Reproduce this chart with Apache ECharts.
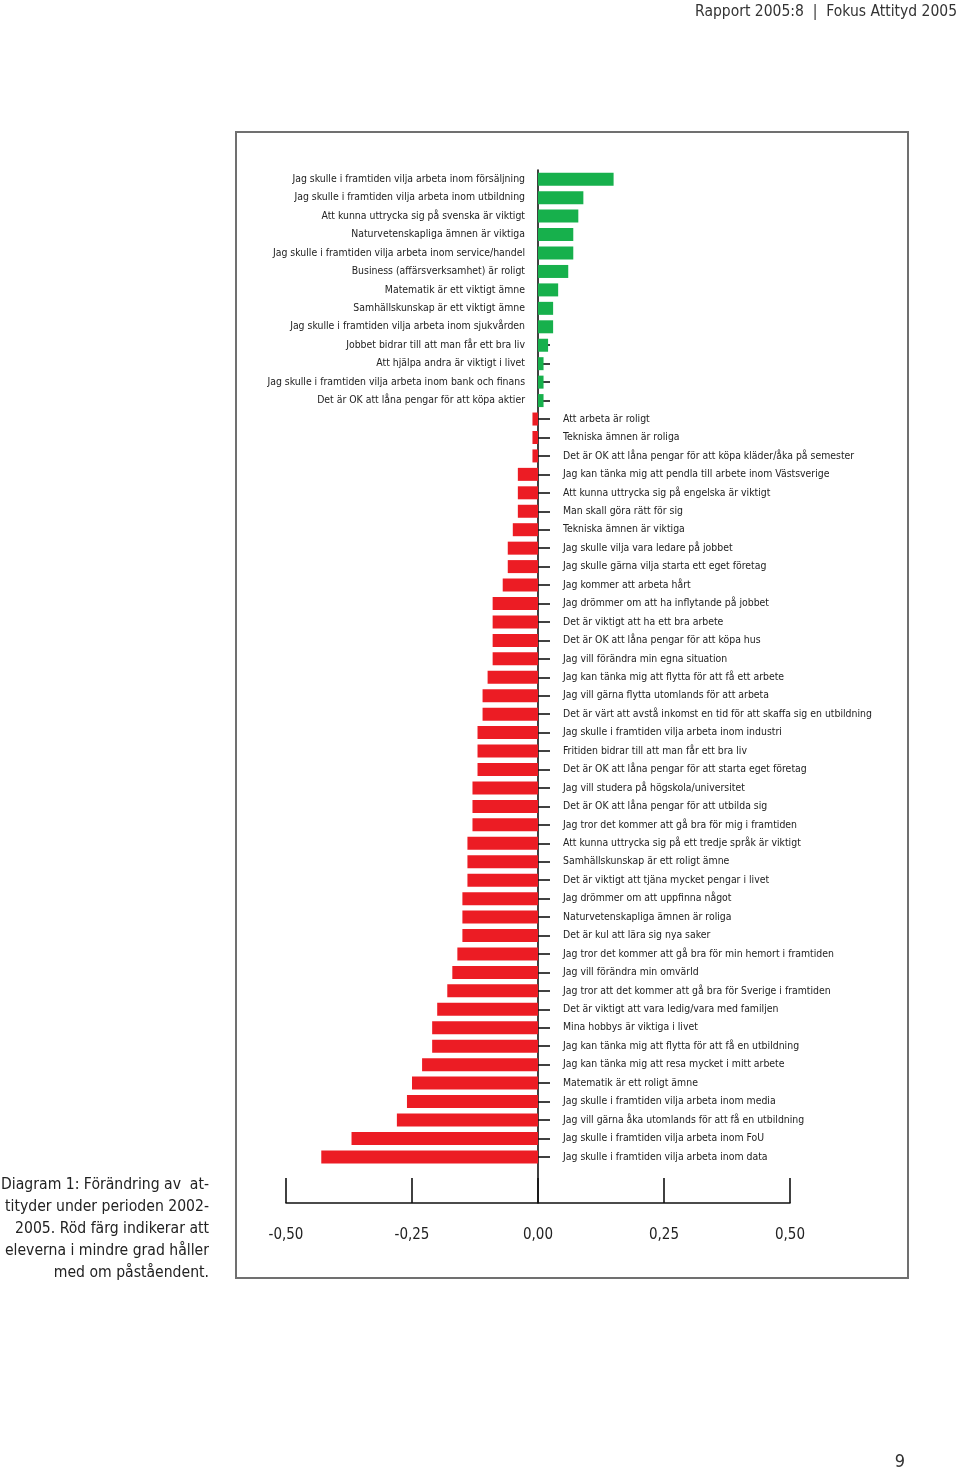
<!DOCTYPE html>
<html>
<head>
<meta charset="utf-8">
<script src="https://cdn.jsdelivr.net/npm/echarts@6/dist/echarts.min.js"></script>
<style>
html,body{margin:0;padding:0;background:#fff;}
#chart{width:960px;height:1467px;}
</style>
</head>
<body>
<div id="chart"></div>
<script>
const categories = [
  'Jag skulle i framtiden vilja arbeta inom försäljning',
  'Jag skulle i framtiden vilja arbeta inom utbildning',
  'Att kunna uttrycka sig på svenska är viktigt',
  'Naturvetenskapliga ämnen är viktiga',
  'Jag skulle i framtiden vilja arbeta inom service/handel',
  'Business (affärsverksamhet) är roligt',
  'Matematik är ett viktigt ämne',
  'Samhällskunskap är ett viktigt ämne',
  'Jag skulle i framtiden vilja arbeta inom sjukvården',
  'Jobbet bidrar till att man får ett bra liv',
  'Att hjälpa andra är viktigt i livet',
  'Jag skulle i framtiden vilja arbeta inom bank och finans',
  'Det är OK att låna pengar för att köpa aktier',
  'Att arbeta är roligt',
  'Tekniska ämnen är roliga',
  'Det är OK att låna pengar för att köpa kläder/åka på semester',
  'Jag kan tänka mig att pendla till arbete inom Västsverige',
  'Att kunna uttrycka sig på engelska är viktigt',
  'Man skall göra rätt för sig',
  'Tekniska ämnen är viktiga',
  'Jag skulle vilja vara ledare på jobbet',
  'Jag skulle gärna vilja starta ett eget företag',
  'Jag kommer att arbeta hårt',
  'Jag drömmer om att ha inflytande på jobbet',
  'Det är viktigt att ha ett bra arbete',
  'Det är OK att låna pengar för att köpa hus',
  'Jag vill förändra min egna situation',
  'Jag kan tänka mig att flytta för att få ett arbete',
  'Jag vill gärna flytta utomlands för att arbeta',
  'Det är värt att avstå inkomst en tid för att skaffa sig en utbildning',
  'Jag skulle i framtiden vilja arbeta inom industri',
  'Fritiden bidrar till att man får ett bra liv',
  'Det är OK att låna pengar för att starta eget företag',
  'Jag vill studera på högskola/universitet',
  'Det är OK att låna pengar för att utbilda sig',
  'Jag tror det kommer att gå bra för mig i framtiden',
  'Att kunna uttrycka sig på ett tredje språk är viktigt',
  'Samhällskunskap är ett roligt ämne',
  'Det är viktigt att tjäna mycket pengar i livet',
  'Jag drömmer om att uppfinna något',
  'Naturvetenskapliga ämnen är roliga',
  'Det är kul att lära sig nya saker',
  'Jag tror det kommer att gå bra för min hemort i framtiden',
  'Jag vill förändra min omvärld',
  'Jag tror att det kommer att gå bra för Sverige i framtiden',
  'Det är viktigt att vara ledig/vara med familjen',
  'Mina hobbys är viktiga i livet',
  'Jag kan tänka mig att flytta för att få en utbildning',
  'Jag kan tänka mig att resa mycket i mitt arbete',
  'Matematik är ett roligt ämne',
  'Jag skulle i framtiden vilja arbeta inom media',
  'Jag vill gärna åka utomlands för att få en utbildning',
  'Jag skulle i framtiden vilja arbeta inom FoU',
  'Jag skulle i framtiden vilja arbeta inom data'
];

const changeValues = [
  0.15, 0.09, 0.08, 0.07, 0.07, 0.06, 0.04, 0.03, 0.03, 0.02, 0.011, 0.011, 0.011,
  -0.011, -0.011, -0.011, -0.04, -0.04, -0.04, -0.05, -0.06, -0.06, -0.07,
  -0.09, -0.09, -0.09, -0.09, -0.10, -0.11, -0.11, -0.12, -0.12, -0.12,
  -0.13, -0.13, -0.13, -0.14, -0.14, -0.14, -0.15, -0.15, -0.15, -0.16, -0.17,
  -0.18, -0.20, -0.21, -0.21, -0.23, -0.25, -0.26, -0.28, -0.37, -0.43
];

const xTicks = [-0.5, -0.25, 0, 0.25, 0.5];

const headerText = 'Rapport 2005:8  |  Fokus Attityd 2005';
const captionLines = [
  'Diagram 1: Förändring av  at-',
  'tityder under perioden 2002-',
  '2005. Röd färg indikerar att',
  'eleverna i mindre grad håller',
  'med om påståendent.'
];
const pageNumber = '9';

const GREEN = '#17b04c';
const RED = '#ec1c24';
const FONT = '"Liberation Sans Narrow", "DejaVu Sans Condensed", sans-serif';

const chart = echarts.init(document.getElementById('chart'), null, {renderer: 'canvas'});

const barData = changeValues.map(v => ({
  value: v,
  itemStyle: {color: v >= 0 ? GREEN : RED}
}));

const labelData = changeValues.map(v => ({
  value: 0,
  label: {
    position: v >= 0 ? 'left' : 'right',
    distance: v >= 0 ? 13 : 25
  }
}));

chart.setOption({
  animation: false,
  backgroundColor: '#ffffff',
  title: [
    {
      text: headerText, right: -2, top: -1,
      textStyle: {fontFamily: FONT, fontSize: 15.5, fontWeight: 'normal', color: '#333'}
    },
    {
      text: pageNumber, right: 50, top: 1448,
      textStyle: {fontFamily: FONT, fontSize: 18, fontWeight: 'normal', color: '#333'}
    }
  ],
  graphic: [
    {
      type: 'rect', silent: true, z: -1,
      shape: {x: 236, y: 132, width: 672, height: 1146},
      style: {fill: 'none', stroke: '#707070', lineWidth: 2}
    },
    {
      type: 'text', silent: true,
      x: 209, y: 1174,
      style: {
        text: captionLines.join('\n'),
        align: 'right', textAlign: 'right',
        verticalAlign: 'top', textVerticalAlign: 'top',
        font: '15.6px ' + FONT, lineHeight: 22, fill: '#222'
      }
    }
  ],
  grid: {left: 286, right: 170, top: 170, bottom: 264, containLabel: false},
  xAxis: {
    type: 'value', min: -0.5, max: 0.5, interval: 0.25, position: 'bottom',
    axisLine: {show: true, onZero: false, lineStyle: {color: '#111', width: 1.6}},
    axisTick: {show: true, inside: true, length: 25, lineStyle: {color: '#111', width: 1.6}},
    splitLine: {show: false},
    axisLabel: {
      margin: 25, fontFamily: FONT, fontSize: 15, color: '#222',
      formatter: v => v.toFixed(2).replace('.', ',')
    }
  },
  yAxis: {
    type: 'category', data: categories, inverse: true, min: 0, max: categories.length + 1,
    axisLine: {show: true, onZero: true, lineStyle: {color: '#111', width: 1.6}},
    axisTick: {
      show: true, inside: true, length: 12, alignWithLabel: true,
      interval: (i) => i < categories.length,
      lineStyle: {color: '#111', width: 1.6}
    },
    axisLabel: {show: false},
    splitLine: {show: false}
  },
  series: [
    {
      type: 'bar', data: barData, barWidth: 13, z: 3,
      silent: true
    },
    {
      type: 'bar', data: labelData, barWidth: 13, barGap: '-100%', z: 4,
      silent: true,
      itemStyle: {color: 'rgba(0,0,0,0)'},
      label: {
        show: true, formatter: '{b}',
        fontFamily: FONT, fontSize: 10.4, color: '#222'
      }
    }
  ]
});
</script>
</body>
</html>
